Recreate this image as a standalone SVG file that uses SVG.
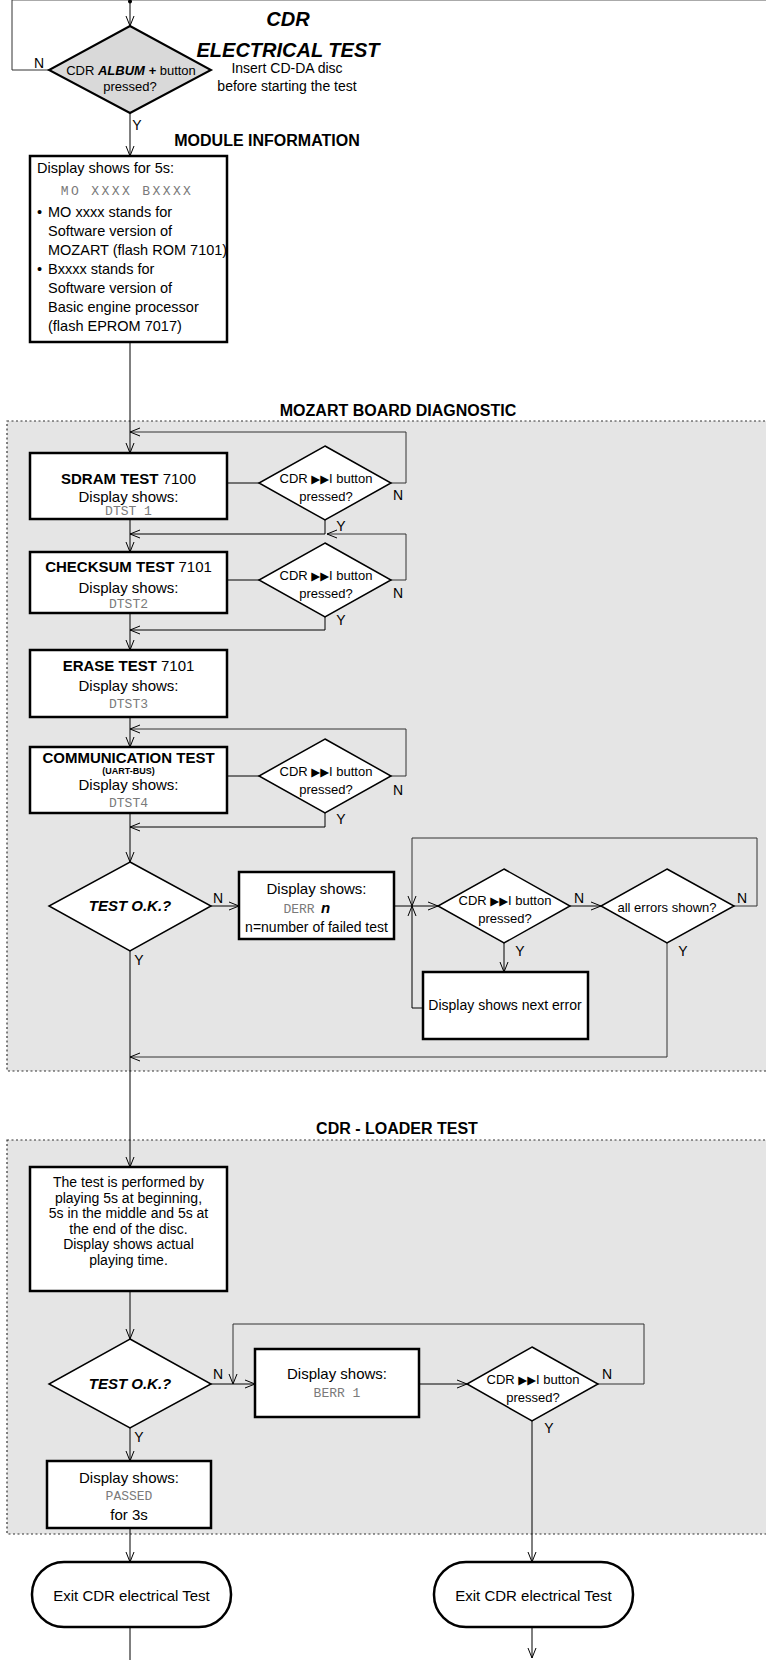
<svg xmlns="http://www.w3.org/2000/svg" width="766" height="1660" viewBox="0 0 766 1660">
<style>
text{font-family:"Liberation Sans",Arial,sans-serif;fill:#000}
.t{font-size:15px;text-anchor:middle}
.t14{font-size:14px;text-anchor:middle}
.d{font-size:13px;text-anchor:middle}
.lbl{font-size:14px;text-anchor:middle}
.b{font-weight:bold}
.bi{font-weight:bold;font-style:italic}
.seg{font-family:"Liberation Mono","DejaVu Sans Mono",monospace;font-size:13px;fill:#7a7a7a;text-anchor:middle}
.box{fill:#fff;stroke:#000;stroke-width:2.5}
.dia{fill:#fff;stroke:#000;stroke-width:1.5}
.c{fill:none;stroke:#000;stroke-width:1}
.cg{fill:none;stroke:#333;stroke-width:1}
.sec{fill:#e5e5e5;stroke:#333;stroke-width:1.2;stroke-dasharray:2 2.5}
.tri{font-family:"DejaVu Sans",sans-serif;font-size:11.5px}
</style>
<defs>
<marker id="a" markerUnits="userSpaceOnUse" markerWidth="12" markerHeight="10" viewBox="-11 -5 12 10" refX="0" refY="0" orient="auto">
<path d="M-10,-4 L0,0 L-10,4" fill="none" stroke="#000" stroke-width="1"/>
</marker>
</defs>

<g id="sections">
<rect id="mozart-section" class="sec" x="7" y="421" width="770" height="650"/>
<rect id="loader-section" class="sec" x="7" y="1140" width="770" height="394"/>
</g>

<g id="connectors">
<path d="M12,0.5 H766" fill="none" stroke="#aaa" stroke-width="1.2"/>
<circle cx="130" cy="1.5" r="2" fill="#000"/>
<path class="c" d="M130,0 V26" marker-end="url(#a)"/>
<path class="cg" d="M49,70 H12 V0"/>
<path class="c" d="M130,113 V156" marker-end="url(#a)"/>
<path class="c" d="M130,342 V453" marker-end="url(#a)"/>
<path class="c" d="M227,483 H259"/>
<path class="cg" d="M391,483 H406 V432 H130" marker-end="url(#a)"/>
<path class="c" d="M325,520 V534 H130" marker-end="url(#a)"/>
<path class="c" d="M130,519 V552" marker-end="url(#a)"/>
<path class="c" d="M227,580 H259"/>
<path class="cg" d="M391,580 H406 V534 H327" marker-end="url(#a)"/>
<path class="c" d="M325,617 V630 H130" marker-end="url(#a)"/>
<path class="c" d="M130,613 V650" marker-end="url(#a)"/>
<path class="c" d="M130,717 V747" marker-end="url(#a)"/>
<path class="c" d="M227,776 H259"/>
<path class="cg" d="M391,776 H406 V729 H130" marker-end="url(#a)"/>
<path class="c" d="M325,813 V827 H130" marker-end="url(#a)"/>
<path class="c" d="M130,813 V862" marker-end="url(#a)"/>
<path class="c" d="M211,906 H239" marker-end="url(#a)"/>
<path class="c" d="M394,906 H438" marker-end="url(#a)"/>
<path class="c" d="M570,906 H601" marker-end="url(#a)"/>
<path class="cg" d="M734,906 H757 V838 H412 V906" marker-end="url(#a)"/>
<path class="c" d="M423,1008 H412 V906" marker-end="url(#a)"/>
<path class="c" d="M504,943 V972" marker-end="url(#a)"/>
<path class="cg" d="M667,943 V1057 H130" marker-end="url(#a)"/>
<path class="c" d="M130,951 V1167" marker-end="url(#a)"/>
<path class="c" d="M130,1291 V1339" marker-end="url(#a)"/>
<path class="c" d="M211,1384 H255" marker-end="url(#a)"/>
<path class="cg" d="M598,1384 H644 V1324 H233 V1384" marker-end="url(#a)"/>
<path class="c" d="M419,1384 H467" marker-end="url(#a)"/>
<path class="c" d="M532,1421 V1562" marker-end="url(#a)"/>
<path class="c" d="M130,1428 V1461" marker-end="url(#a)"/>
<path class="c" d="M130,1528 V1562" marker-end="url(#a)"/>
<path class="c" d="M130,1627 V1660"/>
<path class="c" d="M532,1627 V1658" marker-end="url(#a)"/>
</g>

<g id="labels">
<text class="lbl" x="39" y="68">N</text>
<text class="lbl" x="137" y="130">Y</text>
<text class="lbl" x="398" y="500">N</text>
<text class="lbl" x="341" y="531">Y</text>
<text class="lbl" x="398" y="598">N</text>
<text class="lbl" x="341" y="625">Y</text>
<text class="lbl" x="398" y="795">N</text>
<text class="lbl" x="341" y="824">Y</text>
<text class="lbl" x="218" y="903">N</text>
<text class="lbl" x="139" y="965">Y</text>
<text class="lbl" x="579" y="903">N</text>
<text class="lbl" x="520" y="956">Y</text>
<text class="lbl" x="742" y="903">N</text>
<text class="lbl" x="683" y="956">Y</text>
<text class="lbl" x="218" y="1379">N</text>
<text class="lbl" x="139" y="1442">Y</text>
<text class="lbl" x="607" y="1379">N</text>
<text class="lbl" x="549" y="1433">Y</text>
</g>

<g id="titles">
<text class="bi" x="288" y="26" font-size="20" text-anchor="middle">CDR</text>
<text class="bi" x="288" y="57" font-size="20" text-anchor="middle">ELECTRICAL TEST</text>
<text class="t14" x="287" y="73">Insert CD-DA disc</text>
<text class="t14" x="287" y="91">before starting the test</text>
<text class="b" x="267" y="146" font-size="16" text-anchor="middle">MODULE INFORMATION</text>
<text class="b" x="398" y="416" font-size="16" text-anchor="middle">MOZART BOARD DIAGNOSTIC</text>
<text class="b" x="397" y="1134" font-size="16" text-anchor="middle">CDR - LOADER TEST</text>
</g>

<g id="album-decision">
<polygon points="130,26 211,70 130,113 49,70" fill="#d9d9d9" stroke="#000" stroke-width="2"/>
<text class="d" x="131" y="75" font-size="13.5">CDR <tspan class="bi">ALBUM +</tspan> button</text>
<text class="d" x="130" y="91" font-size="13.5">pressed?</text>
</g>

<g id="module-info">
<rect class="box" x="30" y="156" width="197" height="186"/>
<text x="37" y="173" font-size="14.5">Display shows for 5s:</text>
<text class="seg" x="127" y="195" letter-spacing="2.4">MO XXXX BXXXX</text>
<text x="37" y="217" font-size="14.5">•</text>
<text x="48" y="217" font-size="14.5">MO xxxx stands for</text>
<text x="48" y="236" font-size="14.5">Software version of</text>
<text x="48" y="255" font-size="14.5">MOZART (flash ROM 7101)</text>
<text x="37" y="274" font-size="14.5">•</text>
<text x="48" y="274" font-size="14.5">Bxxxx stands for</text>
<text x="48" y="293" font-size="14.5">Software version of</text>
<text x="48" y="312" font-size="14.5">Basic engine processor</text>
<text x="48" y="331" font-size="14.5">(flash EPROM 7017)</text>
</g>

<g id="sdram-test">
<rect class="box" x="30" y="453" width="197" height="66"/>
<text class="t" x="128.5" y="484"><tspan class="b">SDRAM TEST</tspan> 7100</text>
<text class="t" x="128.5" y="502">Display shows:</text>
<text class="seg" x="128.5" y="515">DTST 1</text>
</g>
<g id="sdram-decision">
<polygon class="dia" points="325,446 391,483 325,520 259,483"/>
<text class="d" x="326" y="483">CDR <tspan class="tri">▶▶</tspan>I button</text>
<text class="d" x="326" y="501">pressed?</text>
</g>

<g id="checksum-test">
<rect class="box" x="30" y="552" width="197" height="61"/>
<text class="t" x="128.5" y="572"><tspan class="b">CHECKSUM TEST</tspan> 7101</text>
<text class="t" x="128.5" y="593">Display shows:</text>
<text class="seg" x="128.5" y="608">DTST2</text>
</g>
<g id="checksum-decision">
<polygon class="dia" points="325,543 391,580 325,617 259,580"/>
<text class="d" x="326" y="580">CDR <tspan class="tri">▶▶</tspan>I button</text>
<text class="d" x="326" y="598">pressed?</text>
</g>

<g id="erase-test">
<rect class="box" x="30" y="650" width="197" height="67"/>
<text class="t" x="128.5" y="671"><tspan class="b">ERASE TEST</tspan> 7101</text>
<text class="t" x="128.5" y="691">Display shows:</text>
<text class="seg" x="128.5" y="708">DTST3</text>
</g>

<g id="communication-test">
<rect class="box" x="30" y="747" width="197" height="66"/>
<text class="t b" x="128.5" y="763">COMMUNICATION TEST</text>
<text class="b" x="128.5" y="774" font-size="9" text-anchor="middle">(UART-BUS)</text>
<text class="t" x="128.5" y="790">Display shows:</text>
<text class="seg" x="128.5" y="807">DTST4</text>
</g>
<g id="communication-decision">
<polygon class="dia" points="325,739 391,776 325,813 259,776"/>
<text class="d" x="326" y="776">CDR <tspan class="tri">▶▶</tspan>I button</text>
<text class="d" x="326" y="794">pressed?</text>
</g>

<g id="test-ok-1">
<polygon class="dia" points="130,862 211,906 130,951 49,906"/>
<text class="t bi" x="130" y="911">TEST O.K.?</text>
</g>
<g id="derr-box">
<rect class="box" x="239" y="872" width="155" height="67"/>
<text class="t" x="316.5" y="894">Display shows:</text>
<text class="seg" x="299" y="913">DERR</text>
<text class="bi" x="321" y="913" font-size="15">n</text>
<text class="t14" x="316.5" y="932">n=number of failed test</text>
</g>
<g id="next-decision">
<polygon class="dia" points="504,869 570,906 504,943 438,906"/>
<text class="d" x="505" y="905">CDR <tspan class="tri">▶▶</tspan>I button</text>
<text class="d" x="505" y="923">pressed?</text>
</g>
<g id="all-errors-decision">
<polygon class="dia" points="667,869 734,906 667,943 601,906"/>
<text class="d" x="667" y="912">all errors shown?</text>
</g>
<g id="next-error-box">
<rect class="box" x="423" y="972" width="165" height="67"/>
<text class="t14" x="505" y="1010">Display shows next error</text>
</g>

<g id="loader-box">
<rect class="box" x="30" y="1167" width="197" height="124"/>
<text class="t14" x="128.5" y="1187">The test is performed by</text>
<text class="t14" x="128.5" y="1202.5">playing 5s at beginning,</text>
<text class="t14" x="128.5" y="1218">5s in the middle and 5s at</text>
<text class="t14" x="128.5" y="1233.5">the end of the disc.</text>
<text class="t14" x="128.5" y="1249">Display shows actual</text>
<text class="t14" x="128.5" y="1264.5">playing time.</text>
</g>
<g id="test-ok-2">
<polygon class="dia" points="130,1339 211,1384 130,1428 49,1384"/>
<text class="t bi" x="130" y="1389">TEST O.K.?</text>
</g>
<g id="berr-box">
<rect class="box" x="255" y="1349" width="164" height="68"/>
<text class="t" x="337" y="1379">Display shows:</text>
<text class="seg" x="337" y="1397">BERR 1</text>
</g>
<g id="loader-decision">
<polygon class="dia" points="532,1347 598,1384 532,1421 467,1384"/>
<text class="d" x="533" y="1384">CDR <tspan class="tri">▶▶</tspan>I button</text>
<text class="d" x="533" y="1402">pressed?</text>
</g>
<g id="passed-box">
<rect class="box" x="47" y="1461" width="164" height="67"/>
<text class="t" x="129" y="1483">Display shows:</text>
<text class="seg" x="129" y="1500">PASSED</text>
<text class="t" x="129" y="1520">for 3s</text>
</g>
<g id="exit-1">
<rect class="box" x="32" y="1562" width="199" height="65" rx="32" ry="32"/>
<text class="t" x="131.5" y="1601">Exit CDR electrical Test</text>
</g>
<g id="exit-2">
<rect class="box" x="434" y="1562" width="199" height="65" rx="32" ry="32"/>
<text class="t" x="533.5" y="1601">Exit CDR electrical Test</text>
</g>
</svg>
